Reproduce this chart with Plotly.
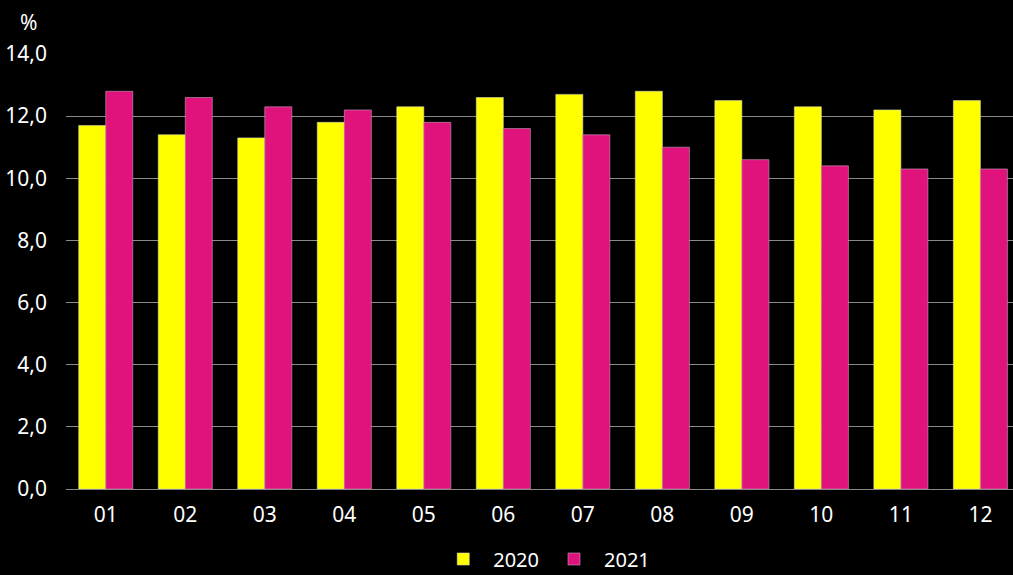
import plotly.graph_objects as go

months = ["01", "02", "03", "04", "05", "06", "07", "08", "09", "10", "11", "12"]
values_2020 = [11.7, 11.4, 11.3, 11.8, 12.3, 12.6, 12.7, 12.8, 12.5, 12.3, 12.2, 12.5]
values_2021 = [12.8, 12.6, 12.3, 12.2, 11.8, 11.6, 11.4, 11.0, 10.6, 10.4, 10.3, 10.3]
y_ticks = [0, 2, 4, 6, 8, 10, 12, 14]

FONT = "Noto Sans"

fig = go.Figure()
fig.add_trace(go.Bar(x=months, y=values_2020, name="2020",
                     marker=dict(color="#FFFF00", line=dict(color="#d8d8b0", width=0.6))))
fig.add_trace(go.Bar(x=months, y=values_2021, name="2021",
                     marker=dict(color="#E0137D", line=dict(color="#c8a0b8", width=0.6))))

fig.update_layout(
    width=1013, height=575,
    paper_bgcolor="#000000", plot_bgcolor="#000000",
    margin=dict(l=66, r=0, t=54, b=86, autoexpand=False),
    barmode="group", bargap=0.32, bargroupgap=0,
    separators=", ",
    font=dict(family=FONT, color="#ffffff", size=21),
    showlegend=True,
    legend=dict(orientation="h", x=0.505, xanchor="center", y=(489 - 559) / 435,
                yanchor="middle", font=dict(size=20, color="#ffffff"),
                itemwidth=50, traceorder="normal", tracegroupgap=0),
    xaxis=dict(type="category", range=[-0.5, 11.41], showgrid=False, showline=False,
               ticks="", tickfont=dict(size=21), ticklabelstandoff=11),
    yaxis=dict(range=[0, 14], tickvals=y_ticks, tickformat=".1f", showgrid=True,
               gridcolor="#8a8a8a", gridwidth=1.3, zeroline=True, zerolinecolor="#8a8a8a",
               zerolinewidth=1.3, showline=False, ticks="", tickfont=dict(size=21),
               ticklabelstandoff=18),
    annotations=[dict(text="%", x=(28 - 66) / 947, y=(489 - 22) / 435,
                      xref="paper", yref="paper", xanchor="center", yanchor="middle",
                      showarrow=False, font=dict(size=21, color="#ffffff"))],
)

fig.write_html("out.html", config={"displayModeBar": False},
               post_script="document.body.style.margin='0';document.body.style.background='#000';")
